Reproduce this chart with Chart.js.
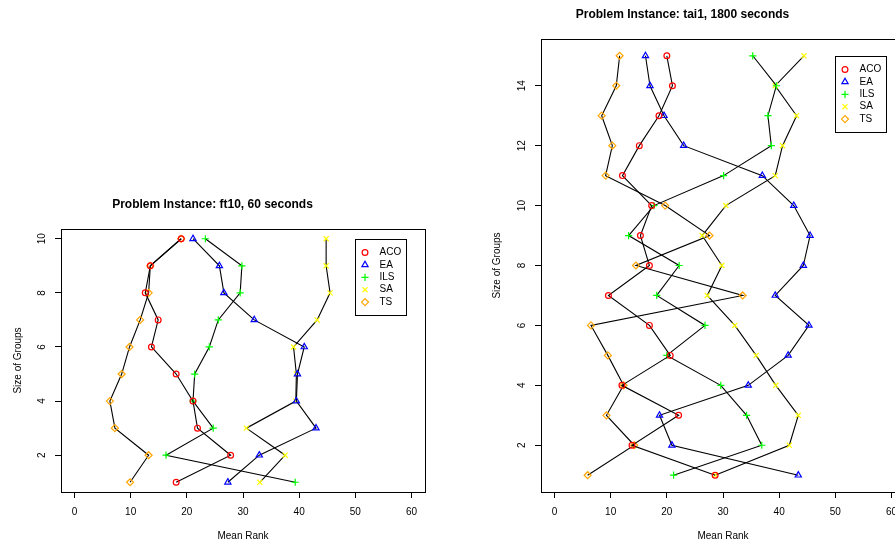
<!DOCTYPE html>
<html>
<head>
<meta charset="utf-8">
<script src="https://cdn.jsdelivr.net/npm/chart.js@4.4.1/dist/chart.umd.min.js"></script>
<style>
    html, body { margin: 0; padding: 0; background: #fff; overflow: hidden; }
    body { width: 895px; height: 545px; position: relative; }
    #ft10 { position: absolute; left: 0; top: 0; width: 440px; height: 545px; }
    #tai1 { position: absolute; left: 460px; top: 0; width: 460px; height: 545px; }
</style>
</head>
<body>
<canvas id="ft10" width="440" height="545"></canvas>
<canvas id="tai1" width="460" height="545"></canvas>
<script>
const algoritmos = ["ACO", "EA", "ILS", "SA", "TS"];
const colores = ["#FF0000", "#0000FF", "#00FF00", "#FFFF00", "#FFA500"];
const simbolos = ["circle", "triangle", "cross", "crossRot", "rectRot"];
const radios = [2.9, 3.6, 3.6, 3.6, 3.5];

const ticksX = [0, 10, 20, 30, 40, 50, 60];

// ft10, 60 segundos: tamano de grupo 1..10
const gruposFt10 = [1, 2, 3, 4, 5, 6, 7, 8, 9, 10];
const acoFt10 = [18.1, 27.8, 21.9, 21.1, 18.1, 13.7, 14.9, 12.6, 13.5, 19.0];
const eaFt10 = [27.3, 32.9, 43.0, 39.5, 39.7, 40.9, 32.0, 26.6, 25.8, 21.1];
const ilsFt10 = [39.3, 16.3, 24.7, 21.1, 21.4, 24.0, 25.6, 29.5, 29.8, 23.3];
const saFt10 = [33.0, 37.5, 30.6, 39.4, 39.5, 39.0, 43.2, 45.5, 44.8, 44.8];
const tsFt10 = [9.9, 13.2, 7.2, 6.3, 8.4, 9.8, 11.7, 13.2, 13.5, 19.0];
const ticksYFt10 = [2, 4, 6, 8, 10];

// tai1, 1800 segundos: tamano de grupo 1..15
const gruposTai1 = [1, 2, 3, 4, 5, 6, 7, 8, 9, 10, 11, 12, 13, 14, 15];
const acoTai1 = [28.6, 13.8, 22.1, 12.0, 20.6, 16.9, 9.6, 16.9, 15.3, 17.3, 12.1, 15.1, 18.6, 21.0, 20.0];
const eaTai1 = [43.4, 20.9, 18.7, 34.5, 41.6, 45.3, 39.3, 44.3, 45.5, 42.6, 37.0, 23.0, 19.5, 17.0, 16.2];
const ilsTai1 = [21.2, 36.9, 34.2, 29.6, 20.0, 26.8, 18.2, 22.2, 13.2, 17.7, 30.1, 38.6, 38.0, 39.5, 35.3];
const saTai1 = [28.6, 41.8, 43.4, 39.4, 35.9, 32.1, 27.2, 29.8, 26.3, 30.5, 39.3, 40.6, 43.1, 39.3, 44.4];
const tsTai1 = [5.9, 14.2, 9.25, 12.3, 9.5, 6.5, 33.5, 14.5, 27.6, 19.7, 9.1, 10.3, 8.4, 11.0, 11.6];
const ticksYTai1 = [2, 4, 6, 8, 10, 12, 14];

const fuente = '"Liberation Sans", Arial, Helvetica, sans-serif';

// caja, etiquetas Y giradas y leyenda al estilo R
const marcoR = {
    id: "marcoR",
    afterDraw(chart) {
        const ctx = chart.ctx;
        const a = chart.chartArea;
        const sx = chart.scales.x;
        const sy = chart.scales.y;
        ctx.save();
        ctx.strokeStyle = "#000";
        ctx.lineWidth = 1;
        ctx.strokeRect(a.left + 0.5, a.top + 0.5, a.right - a.left, a.bottom - a.top);

        ctx.fillStyle = "#000";
        ctx.font = "10px " + fuente;
        ctx.textAlign = "center";
        ctx.textBaseline = "middle";
        sy.ticks.forEach(t => {
            ctx.save();
            ctx.translate(a.left - 19, sy.getPixelForValue(t.value));
            ctx.rotate(-Math.PI / 2);
            ctx.fillText(String(t.value), 0, 0);
            ctx.restore();
        });

        const derecha = sx.getPixelForValue(59);
        const arriba = sy.getPixelForValue(sy.options.ymaxLeyenda);
        const ancho = 51, alto = 76;
        const izq = Math.round(derecha - ancho) + 0.5;
        const sup = Math.round(arriba) + 0.5;
        ctx.fillStyle = "#fff";
        ctx.fillRect(izq, sup, ancho, alto);
        ctx.strokeStyle = "#000";
        ctx.strokeRect(izq, sup, ancho, alto);
        chart.data.datasets.forEach((ds, i) => {
            const y = sup + 13 + i * 12.4;
            ctx.strokeStyle = colores[i];
            ctx.fillStyle = "rgba(0,0,0,0)";
            ctx.lineWidth = 1.2;
            Chart.helpers.drawPoint(ctx, {
                pointStyle: simbolos[i],
                radius: radios[i],
                borderWidth: 1.2,
                rotation: 0
            }, izq + 9.5, y);
            ctx.fillStyle = "#000";
            ctx.textAlign = "left";
            ctx.fillText(ds.label, izq + 24, y);
        });
        ctx.restore();
    }
};

function crearGrafico(id, titulo, grupos, series, ticksY, cfg) {
    const n = grupos.length;
    const margen = 0.04 * (n - 1);
    const datasets = series.map((valores, i) => ({
        label: algoritmos[i],
        data: grupos.map((g, j) => ({ x: valores[j], y: g })),
        showLine: true,
        borderColor: "#000",
        borderWidth: 1.1,
        tension: 0,
        pointStyle: simbolos[i],
        pointRadius: radios[i],
        pointHoverRadius: radios[i],
        pointBorderWidth: 1.2,
        pointBorderColor: colores[i],
        pointBackgroundColor: "rgba(0,0,0,0)"
    }));

    const ctx = document.getElementById(id).getContext("2d");
    return new Chart(ctx, {
        type: "scatter",
        data: { datasets: datasets },
        options: {
            responsive: false,
            animation: false,
            layout: { padding: { top: cfg.arriba, right: 15, bottom: 0, left: 0 } },
            plugins: {
                legend: { display: false },
                tooltip: { enabled: false },
                title: {
                    display: true,
                    text: titulo,
                    color: "#000",
                    font: { family: fuente, size: 12, weight: "bold", lineHeight: 1.2 },
                    padding: { top: 0, bottom: cfg.bajoTitulo }
                }
            },
            scales: {
                x: {
                    type: "linear",
                    min: -2.4,
                    max: 62.4,
                    afterBuildTicks: s => { s.ticks = ticksX.map(v => ({ value: v })); },
                    afterFit: s => { s.height = cfg.altoX; },
                    border: { display: false },
                    grid: { drawOnChartArea: false, drawTicks: true, tickLength: 6, color: "#000", lineWidth: 1 },
                    ticks: { color: "#000", font: { family: fuente, size: 10 }, padding: 8, autoSkip: false, maxRotation: 0 },
                    title: {
                        display: true,
                        text: "Mean Rank",
                        color: "#000",
                        font: { family: fuente, size: 10, lineHeight: 1.2 },
                        padding: { top: 0, bottom: 3 }
                    }
                },
                y: {
                    type: "linear",
                    min: 1 - margen,
                    max: n + margen,
                    ymaxLeyenda: n,
                    afterBuildTicks: s => { s.ticks = ticksY.map(v => ({ value: v })); },
                    afterFit: s => { s.width = cfg.anchoY; },
                    border: { display: false },
                    grid: { drawOnChartArea: false, drawTicks: true, tickLength: 6, color: "#000", lineWidth: 1 },
                    ticks: { display: false },
                    title: {
                        display: true,
                        text: "Size of Groups",
                        color: "#000",
                        font: { family: fuente, size: 10, lineHeight: 1.2 },
                        padding: { top: cfg.tituloY, bottom: 0 }
                    }
                }
            }
        },
        plugins: [marcoR]
    });
}

window.onload = function () {
    crearGrafico("ft10", "Problem Instance: ft10, 60 seconds", gruposFt10,
        [acoFt10, eaFt10, ilsFt10, saFt10, tsFt10], ticksYFt10,
        { arriba: 197.3, bajoTitulo: 17.3, altoX: 53, anchoY: 61, tituloY: 12 });
    crearGrafico("tai1", "Problem Instance: tai1, 1800 seconds", gruposTai1,
        [acoTai1, eaTai1, ilsTai1, saTai1, tsTai1], ticksYTai1,
        { arriba: 7.3, bajoTitulo: 17.3, altoX: 53, anchoY: 81, tituloY: 31 });
};
</script>
</body>
</html>
